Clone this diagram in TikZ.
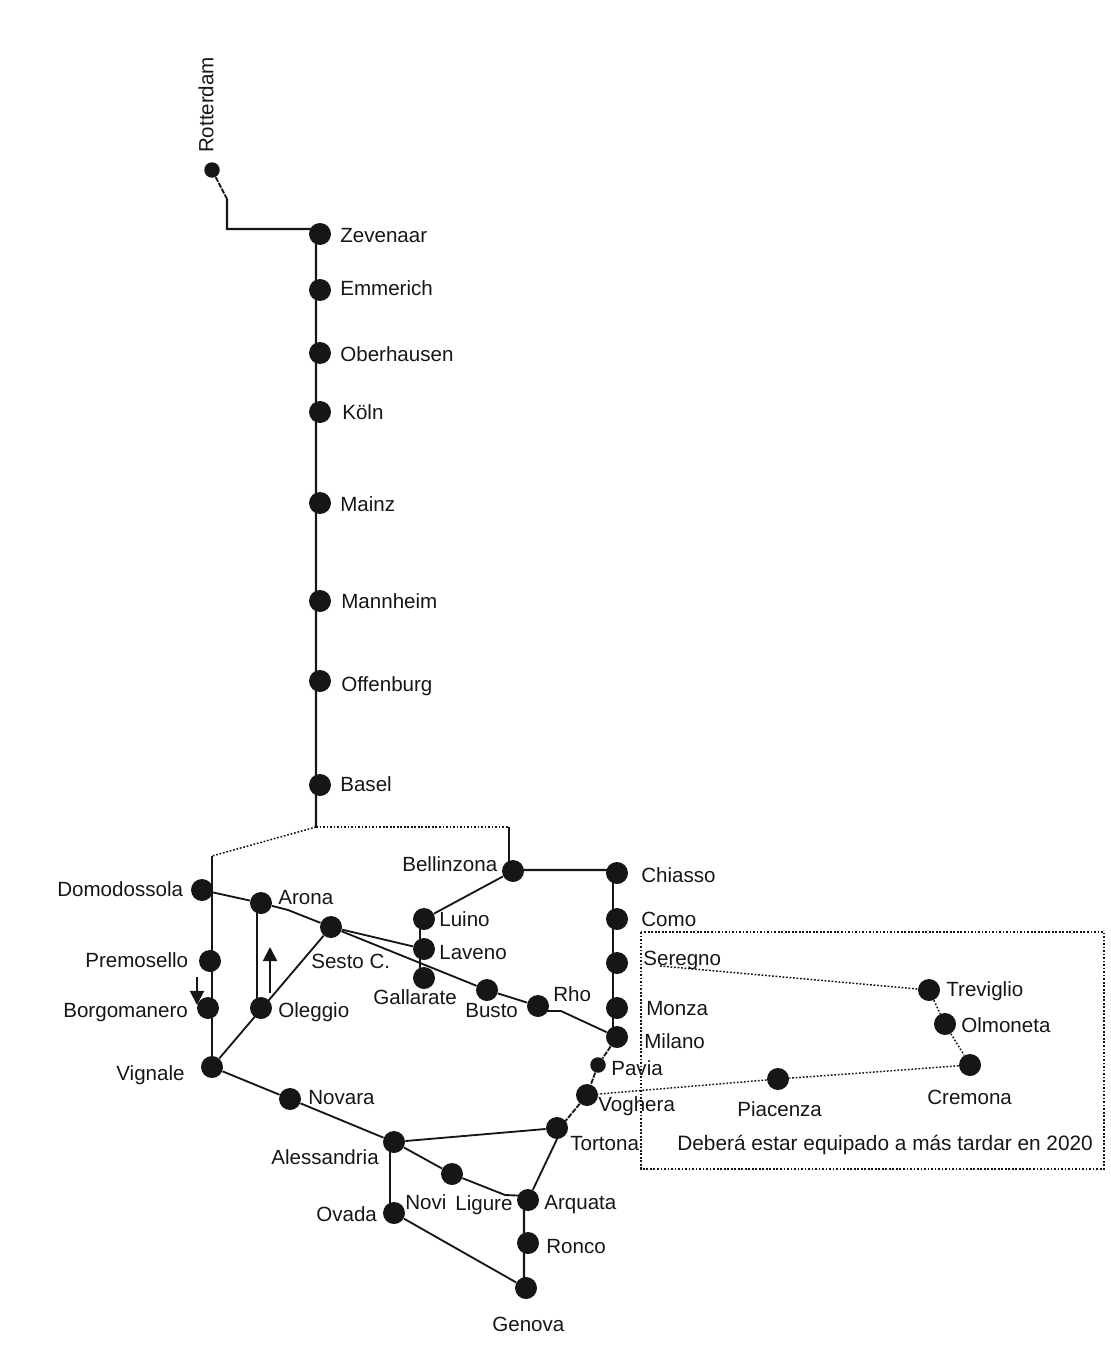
\documentclass[tikz,border=0pt]{standalone}
\usepackage{fontspec}
\setmainfont{Liberation Sans}
\usetikzlibrary{arrows.meta}
\definecolor{railblack}{HTML}{161616}
\tikzset{stn/.style={circle,fill=railblack,draw=none,inner sep=0pt,minimum size=0.44cm}}
\tikzset{halt/.style={stn,minimum size=0.31cm}}
\tikzset{stnname/.style={anchor=west,inner sep=0pt,text height=8.3pt,text depth=0pt,
  text=railblack,font=\fontsize{11.7}{14}\selectfont}}
\tikzset{rail/.style={draw=railblack,line width=1.3pt}}
\tikzset{railthin/.style={draw=railblack,line width=1.05pt}}
\tikzset{railbroken/.style={railthin,dash pattern=on 3pt off 0.7pt}}
\tikzset{planned/.style={draw=railblack,line width=0.85pt,dash pattern=on 1pt off 1pt}}
\tikzset{direction/.style={draw=railblack,line width=1.1pt,-{Triangle[length=8pt,width=8pt]}}}
\tikzset{trackleft/.style={xshift=-2.3pt}}

\begin{document}
\begin{tikzpicture}[x=0.02cm,y=-0.02cm]
    \useasboundingbox (0,0) rectangle (1111,1362);
    % Northern stations
    \node[halt] (rotterdam) at (212,170) {};
    \node[stn] (zevenaar) at (320,234) {};
    \node[stn] (emmerich) at (320,290) {};
    \node[stn] (oberhausen) at (320,353) {};
    \node[stn] (koeln) at (320,412) {};
    \node[stn] (mainz) at (320,503) {};
    \node[stn] (mannheim) at (320,601) {};
    \node[stn] (offenburg) at (320,681) {};
    \node[stn] (basel) at (320,785) {};
    % Western branch
    \node[stn] (domodossola) at (202,890) {};
    \node[stn] (premosello) at (210,961) {};
    \node[stn] (borgomanero) at (208,1008) {};
    \node[stn] (vignale) at (212,1067) {};
    \node[stn] (arona) at (261,903) {};
    \node[stn] (oleggio) at (261,1008) {};
    \node[stn] (sesto) at (331,927) {};
    \node[stn] (novara) at (290,1099) {};
    % Lake line and Milano
    \node[stn] (bellinzona) at (513,871) {};
    \node[stn] (luino) at (424,919) {};
    \node[stn] (laveno) at (424,949) {};
    \node[stn] (gallarate) at (424,978) {};
    \node[stn] (busto) at (487,990) {};
    \node[stn] (rho) at (538,1006) {};
    \node[stn] (chiasso) at (617,873) {};
    \node[stn] (como) at (617,919) {};
    \node[stn] (seregno) at (617,963) {};
    \node[stn] (monza) at (617,1008) {};
    \node[stn] (milano) at (617,1037) {};
    \node[halt] (pavia) at (598,1065) {};
    % Towards Genova
    \node[stn] (voghera) at (587,1095) {};
    \node[stn] (tortona) at (557,1128) {};
    \node[stn] (alessandria) at (394,1142) {};
    \node[stn] (novi) at (452,1174) {};
    \node[stn] (arquata) at (528,1200) {};
    \node[stn] (ronco) at (528,1243) {};
    \node[stn] (genova) at (526,1288) {};
    \node[stn] (ovada) at (394,1213) {};
    % Eastern link
    \node[stn] (treviglio) at (929,990) {};
    \node[stn] (olmoneta) at (945,1024) {};
    \node[stn] (cremona) at (970,1065) {};
    \node[stn] (piacenza) at (778,1079) {};
    % Bends
    \coordinate (rotbendA) at (227,199);
    \coordinate (rotbendB) at (227,229);
    \coordinate (split) at (316,827);
    \coordinate (splitW) at (212,856);
    \coordinate (splitE) at (509,827);
    \coordinate (aronabend) at (288,910);
    \coordinate (rhobend) at (561,1011);
    \coordinate (novibend) at (505,1195);
    \coordinate (linkstart) at (660,966);
    \coordinate (boxNW) at (641,932);
    \coordinate (boxSE) at (1104,1169);
    \coordinate (upS) at (270,993);
    \coordinate (upN) at (270,947);
    \coordinate (downN) at (197,977);
    \coordinate (downS) at (197,1005);
    % Names
    \node[stnname,rotate=90,anchor=center] (rotterdamtxt) at (206,105) {Rotterdam};
    \node[stnname] (zevenaartxt) at (340,235) {Zevenaar};
    \node[stnname] (emmerichtxt) at (340,288) {Emmerich};
    \node[stnname] (oberhausentxt) at (340,354) {Oberhausen};
    \node[stnname] (koelntxt) at (342,412) {Köln};
    \node[stnname] (mainztxt) at (340,504) {Mainz};
    \node[stnname] (mannheimtxt) at (341,601) {Mannheim};
    \node[stnname] (offenburgtxt) at (341,684) {Offenburg};
    \node[stnname] (baseltxt) at (340,784) {Basel};
    \node[stnname] (domodossolatxt) at (57,889) {Domodossola};
    \node[stnname] (premosellotxt) at (85,960) {Premosello};
    \node[stnname] (borgomanerotxt) at (63,1010) {Borgomanero};
    \node[stnname] (vignaletxt) at (116,1073) {Vignale};
    \node[stnname] (aronatxt) at (278,897) {Arona};
    \node[stnname] (oleggiotxt) at (278,1010) {Oleggio};
    \node[stnname] (sestotxt) at (311,961) {Sesto C.};
    \node[stnname] (novaratxt) at (308,1097) {Novara};
    \node[stnname] (bellinzonatxt) at (402,864) {Bellinzona};
    \node[stnname] (luinotxt) at (439,919) {Luino};
    \node[stnname] (lavenotxt) at (439,952) {Laveno};
    \node[stnname] (gallaratetxt) at (373,997) {Gallarate};
    \node[stnname] (bustotxt) at (465,1010) {Busto};
    \node[stnname] (rhotxt) at (553,994) {Rho};
    \node[stnname] (chiassotxt) at (641,875) {Chiasso};
    \node[stnname] (comotxt) at (641,919) {Como};
    \node[stnname] (seregnotxt) at (643,958) {Seregno};
    \node[stnname] (monzatxt) at (646,1008) {Monza};
    \node[stnname] (milanotxt) at (644,1041) {Milano};
    \node[stnname] (paviatxt) at (611,1068) {Pavia};
    \node[stnname] (vogheratxt) at (598,1104) {Voghera};
    \node[stnname] (tortonatxt) at (570,1143) {Tortona};
    \node[stnname] (alessandriatxt) at (271,1157) {Alessandria};
    \node[stnname] (ovadatxt) at (316,1214) {Ovada};
    \node[stnname] (novitxt) at (405,1202) {Novi};
    \node[stnname] (liguretxt) at (455,1203) {Ligure};
    \node[stnname] (arquatatxt) at (544,1202) {Arquata};
    \node[stnname] (roncotxt) at (546,1246) {Ronco};
    \node[stnname] (genovatxt) at (492,1324) {Genova};
    \node[stnname] (trevigliotxt) at (946,989) {Treviglio};
    \node[stnname] (olmonetatxt) at (961,1025) {Olmoneta};
    \node[stnname] (cremonatxt) at (927,1097) {Cremona};
    \node[stnname] (piacenzatxt) at (737,1109) {Piacenza};
    \node[stnname,font=\fontsize{11.85}{14}\selectfont] (deadlinetxt) at (677,1143) {Deberá estar equipado a más tardar en 2020};
    % Main line
    \draw[railbroken] (rotterdam) -- (rotbendA);
    \draw[rail] (rotbendA) -- (rotbendB) -- ([trackleft,yshift=2.8pt]zevenaar.center);
    \draw[rail] ([trackleft]zevenaar.center) -- ([trackleft]basel.center) -- (split);
    \draw[planned] (split) -- (splitW);
    \draw[planned] (split) -- (splitE);
    \draw[railthin] (splitE) -- ([trackleft]bellinzona.center);
    \draw[rail] (splitW) -- (vignale);
    % Lombardia lines
    \draw[railthin] (domodossola) -- (arona) -- (aronabend) -- (sesto) -- (busto) -- (rho);
    \draw[railthin] ([yshift=-2.8pt]rho.center) -- (rhobend) -- (milano);
    \draw[railthin] (sesto) -- (laveno);
    \draw[rail] ([trackleft]arona.center) -- ([trackleft]oleggio.center);
    \draw[railthin] (vignale) -- (sesto);
    \draw[railthin] (vignale) -- (novara) -- (alessandria);
    \draw[railthin] (bellinzona) -- (luino);
    \draw[rail] ([trackleft]luino.center) -- ([trackleft]gallarate.center);
    \draw[rail] ([yshift=0.6pt]bellinzona.center) -- ([yshift=1.7pt]chiasso.center);
    \draw[rail] ([trackleft]chiasso.center) -- ([trackleft]milano.center);
    \draw[railbroken] (milano) -- (pavia) -- (voghera) -- ([xshift=1.5pt]tortona.center);
    % Genova lines
    \draw[railthin] (alessandria) -- (tortona);
    \draw[railthin] (alessandria) -- (novi) -- (novibend) -- ([yshift=2.3pt]arquata.center);
    \draw[railthin] ([xshift=3pt]tortona.center) -- (arquata);
    \draw[rail] ([trackleft]alessandria.center) -- ([trackleft]ovada.center);
    \draw[railthin] (ovada) -- (genova);
    \draw[rail] ([trackleft]arquata.center) -- ([xshift=-1.2pt]genova.center);
    % Link still to be equipped
    \draw[planned] (linkstart) -- (treviglio) -- (olmoneta) -- (cremona) -- (piacenza) -- (voghera);
    \draw[planned] (boxNW) rectangle (boxSE);
    % Running directions
    \draw[direction] (upS) -- (upN);
    \draw[direction] (downN) -- (downS);
\end{tikzpicture}
\end{document}
